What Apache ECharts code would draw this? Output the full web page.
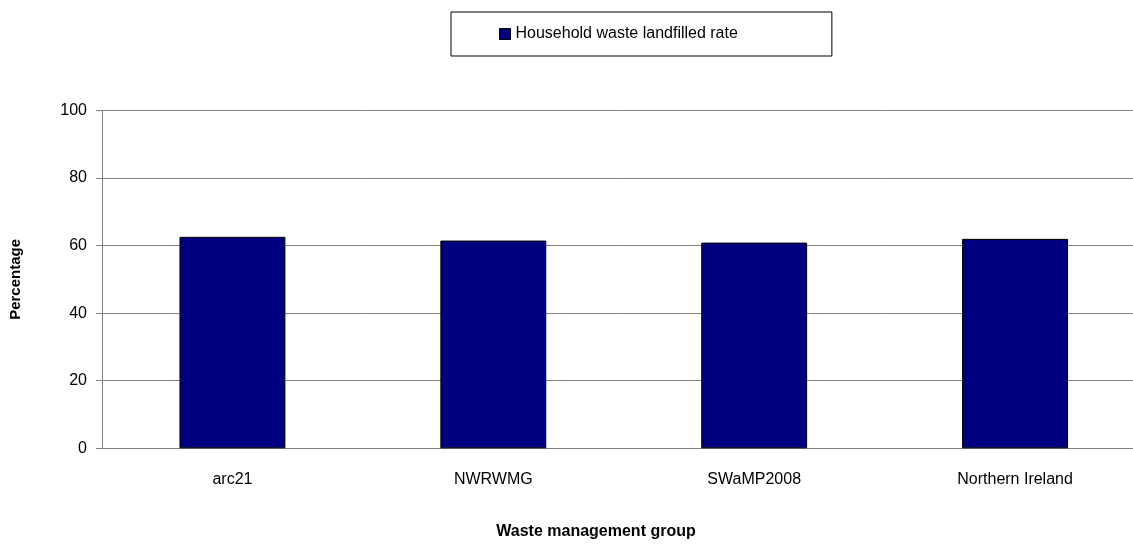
<!DOCTYPE html>
<html>
<head>
<meta charset="utf-8">
<script src="https://cdn.jsdelivr.net/npm/echarts@6/dist/echarts.min.js"></script>
<style>
  html, body { margin: 0; padding: 0; background: #ffffff; overflow: hidden; width: 1133px; height: 548px; }
  #chart { width: 1146px; height: 548px; }
</style>
</head>
<body>
<div id="chart"></div>
<script>
const categories = ['arc21', 'NWRWMG', 'SWaMP2008', 'Northern Ireland'];
const landfilledRate = [62.6, 61.5, 60.9, 62.0];
const seriesName = 'Household waste landfilled rate';
const yAxisTitle = 'Percentage';
const xAxisTitle = 'Waste management group';

const FONT = '"Liberation Sans", Arial, sans-serif';
const chart = echarts.init(document.getElementById('chart'), null, { renderer: 'canvas' });
chart.setOption({
  animation: false,
  backgroundColor: '#ffffff',
  legend: {
    left: 451,
    top: 12,
    padding: [14, 94, 14, 48],
    borderColor: '#000000',
    borderWidth: 1,
    itemWidth: 11,
    itemHeight: 11,
    icon: 'rect',
    textStyle: { fontFamily: FONT, fontSize: 16, color: '#000000' },
    data: [{ name: seriesName, itemStyle: { borderColor: '#000000', borderWidth: 1 } }]
  },
  grid: { left: 101.5, right: 0.5, top: 110.5, bottom: 99.7, containLabel: false },
  xAxis: {
    type: 'category',
    data: categories,
    axisLine: { lineStyle: { color: '#808080', width: 1 } },
    axisTick: { show: false },
    axisLabel: { fontFamily: FONT, fontSize: 16, color: '#000000', margin: 23 }
  },
  yAxis: {
    type: 'value',
    min: 0,
    max: 100,
    interval: 20,
    name: yAxisTitle,
    nameLocation: 'middle',
    nameGap: 79,
    nameTextStyle: { fontFamily: FONT, fontSize: 15, fontWeight: 'bold', color: '#000000' },
    axisLine: { show: true, lineStyle: { color: '#808080', width: 1 } },
    axisTick: { show: true, length: 6, lineStyle: { color: '#808080' } },
    axisLabel: { fontFamily: FONT, fontSize: 16, color: '#000000', margin: 15 },
    splitLine: { show: true, lineStyle: { color: '#808080', width: 1 } }
  },
  graphic: [{
    type: 'text',
    x: 596,
    y: 532,
    style: { text: xAxisTitle, font: 'bold 16px ' + FONT, fill: '#000000', textAlign: 'center', textVerticalAlign: 'middle' }
  }],
  series: [{
    type: 'bar',
    name: seriesName,
    data: landfilledRate,
    barWidth: '40.6%',
    itemStyle: { color: '#000080', borderColor: '#000000', borderWidth: 1 }
  }]
});
</script>
</body>
</html>
